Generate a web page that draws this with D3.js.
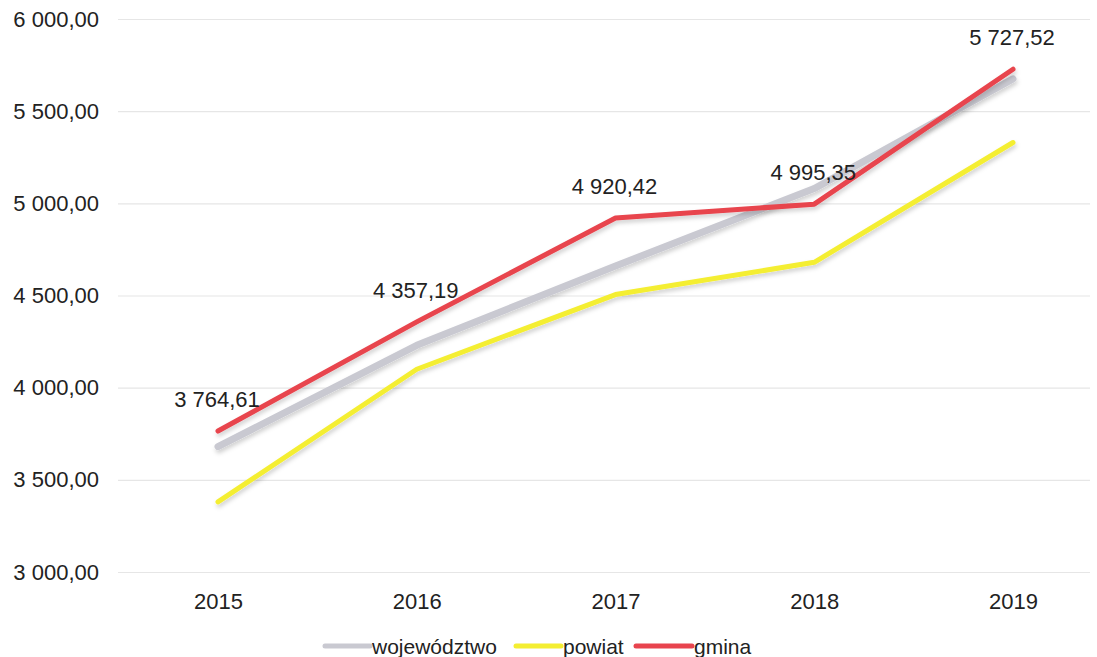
<!DOCTYPE html>
<html>
<head>
<meta charset="utf-8">
<script src="https://cdn.jsdelivr.net/npm/d3@7"></script>
<style>
  html, body { margin: 0; padding: 0; background: #fff; }
  svg { display: block; font-family: "Liberation Sans", Arial, sans-serif; }
</style>
</head>
<body>
<svg id="chart" width="1097" height="657"></svg>
<script>
const years = ["2015", "2016", "2017", "2018", "2019"];
const wojewodztwo = [3680, 4230, 4660, 5080, 5675];
const powiat = [3380, 4100, 4505, 4680, 5330];
const gmina = [3764.61, 4357.19, 4920.42, 4995.35, 5727.52];
const yTicks = [3000, 3500, 4000, 4500, 5000, 5500, 6000];
const seriesNames = ["województwo", "powiat", "gmina"];

const svg = d3.select("#chart");

const x = d3.scalePoint().domain(years).range([218, 1013]);
const y = d3.scaleLinear().domain([3000, 6000]).range([572, 19]);

const fmt = v => {
  const s = d3.format(",.2f")(v);
  return s.replace(/,/g, " ").replace(".", ",");
};

const defs = svg.append("defs");
const f = defs.append("filter").attr("id", "sh").attr("x", "-10%").attr("y", "-10%").attr("width", "120%").attr("height", "130%");
f.append("feDropShadow").attr("dx", 1).attr("dy", 3).attr("stdDeviation", 2).attr("flood-color", "#000").attr("flood-opacity", 0.18);

// gridlines + y labels
const yAxis = d3.axisLeft(y).tickValues(yTicks).tickSize(-(1090 - 118)).tickFormat(fmt).tickPadding(19);
const gy = svg.append("g").attr("transform", "translate(118,0)").call(yAxis);
gy.select(".domain").remove();
gy.selectAll(".tick line").attr("stroke", "#e6e6e6").attr("stroke-width", 1.2);
gy.selectAll(".tick text").attr("fill", "#222").attr("font-size", 22);

// x axis labels
const xAxis = d3.axisBottom(x).tickSize(0).tickPadding(21);
const gx = svg.append("g").attr("transform", "translate(0,572)").call(xAxis);
gx.select(".domain").remove();
gx.selectAll(".tick text").attr("fill", "#222").attr("font-size", 22);

const series = [
  { name: seriesNames[0], values: wojewodztwo, color: "#c9c9d1", width: 7 },
  { name: seriesNames[1], values: powiat, color: "#f4ee32", width: 5 },
  { name: seriesNames[2], values: gmina, color: "#e8444e", width: 5 }
];

const line = d3.line().x((d, i) => x(years[i])).y(d => y(d));

svg.append("g").selectAll("path").data(series).join("path")
  .attr("d", d => line(d.values))
  .attr("fill", "none")
  .attr("stroke", d => d.color)
  .attr("stroke-width", d => d.width)
  .attr("stroke-linecap", "round")
  .attr("stroke-linejoin", "round")
  .attr("filter", "url(#sh)");

// data labels for gmina
svg.append("g").selectAll("text").data(gmina).join("text")
  .attr("x", (d, i) => x(years[i]) - 1)
  .attr("y", d => y(d) - 24)
  .attr("text-anchor", "middle")
  .attr("font-size", 22)
  .attr("fill", "#222")
  .text(d => fmt(d));

// legend
const legendItems = [
  { s: series[0], x1: 325, x2: 370 },
  { s: series[1], x1: 516, x2: 561 },
  { s: series[2], x1: 636, x2: 692 }
];
const lg = svg.append("g");
const ly = 646;
legendItems.forEach(it => {
  lg.append("line").attr("x1", it.x1).attr("x2", it.x2).attr("y1", ly).attr("y2", ly)
    .attr("stroke", it.s.color).attr("stroke-width", 5).attr("stroke-linecap", "round");
  lg.append("text").attr("x", it.x2 + 2).attr("y", ly + 8).attr("font-size", 21).attr("fill", "#222").text(it.s.name);
});
</script>
</body>
</html>
